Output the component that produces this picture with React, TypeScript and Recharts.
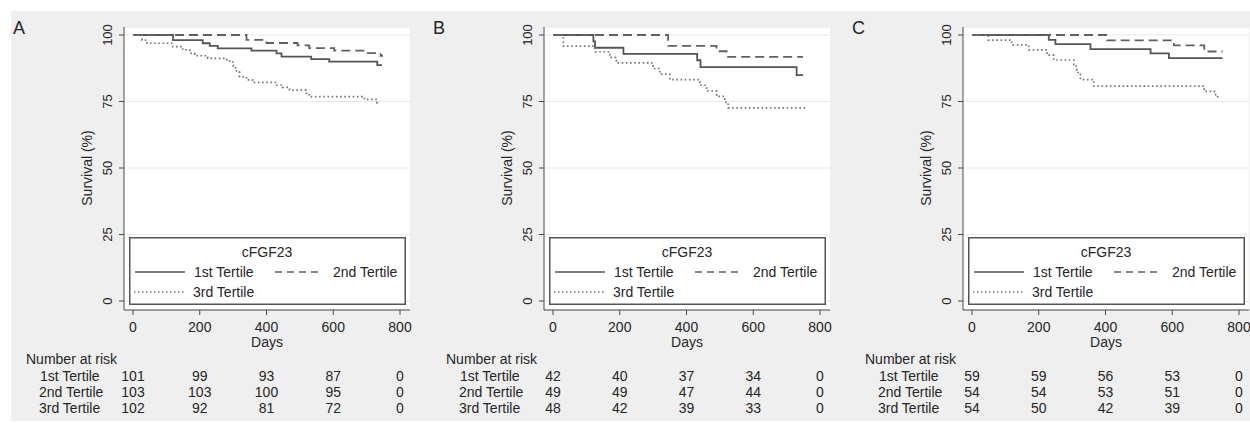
import React from 'react';
import { ComposedChart, Line, XAxis, YAxis, CartesianGrid } from 'recharts';

const dayTicks = [0, 200, 400, 600, 800];
const survivalTicks = [0, 25, 50, 75, 100];
const groupNames = ['1st Tertile', '2nd Tertile', '3rd Tertile'];

// [day, survival %] — Kaplan-Meier steps
const aFirst = [[0, 100], [120, 98.1], [209, 96.9], [230, 95.9], [254, 95.0], [355, 94.1], [430, 93.1], [445, 91.9], [534, 90.9], [588, 90.0], [732, 88.7], [746, 88.7]];
const aSecond = [[0, 100], [340, 98.2], [400, 97.0], [493, 96.1], [528, 95.1], [603, 94.1], [695, 93.2], [742, 92.2], [749, 92.2]];
const aThird = [[0, 100], [27, 98.1], [42, 96.9], [119, 95.6], [149, 94.4], [170, 93.1], [185, 92.2], [224, 91.2], [281, 90.2], [299, 88.5], [307, 86.5], [319, 84.3], [340, 83.1], [358, 82.2], [430, 81.2], [448, 80.3], [469, 79.3], [519, 78.1], [528, 76.8], [693, 75.8], [731, 74.5], [737, 74.5]];

const bFirst = [[0, 100], [121, 97.6], [126, 95.2], [211, 92.9], [432, 90.5], [442, 87.9], [730, 84.9], [749, 84.9]];
const bSecond = [[0, 100], [345, 95.9], [490, 93.9], [520, 91.8], [749, 91.8]];
const bThird = [[0, 100], [31, 95.8], [126, 93.7], [170, 91.6], [190, 89.5], [300, 87.4], [320, 85.3], [350, 83.2], [440, 81.1], [460, 79.0], [490, 76.9], [515, 74.7], [525, 72.6], [755, 72.6]];

const cFirst = [[0, 100], [230, 98.2], [250, 96.6], [355, 94.7], [535, 93.1], [590, 91.3], [751, 91.3]];
const cSecond = [[0, 100], [405, 98.0], [605, 96.1], [696, 93.8], [751, 93.8]];
const cThird = [[0, 100], [49, 98.1], [119, 96.3], [170, 94.4], [225, 92.4], [245, 90.6], [305, 88.9], [312, 87.0], [318, 85.2], [325, 83.2], [365, 80.8], [696, 78.8], [726, 77.6], [736, 76.3], [740, 76.3]];

// number at risk at 0, 200, 400, 600, 800 days
const aRisk = [[101, 99, 93, 87, 0], [103, 103, 100, 95, 0], [102, 92, 81, 72, 0]];
const bRisk = [[42, 40, 37, 34, 0], [49, 49, 47, 44, 0], [48, 42, 39, 33, 0]];
const cRisk = [[59, 59, 56, 53, 0], [54, 54, 53, 51, 0], [54, 50, 42, 39, 0]];

const pts = (rows: number[][]) => rows.map(([day, s]) => ({ day, s }));

const panels = [
  { letter: 'A', left: 0, curves: [aFirst, aSecond, aThird], risk: aRisk },
  { letter: 'B', left: 420, curves: [bFirst, bSecond, bThird], risk: bRisk },
  { letter: 'C', left: 839, curves: [cFirst, cSecond, cThird], risk: cRisk },
];

const FONT = '"Liberation Sans", Arial, sans-serif';
const TEXT = '#262626';
const AXIS = '#4a4a4a';
const lineStyles = [
  { stroke: '#555555', dash: undefined, width: 1.8 },
  { stroke: '#606060', dash: '9 5', width: 1.8 },
  { stroke: '#737373', dash: '1.6 2.6', width: 1.7 },
];

const SurvTick = (props: any) => {
  const { x, y, payload } = props;
  const cx = x - 10;
  return (
    <text x={cx} y={y} transform={`rotate(-90 ${cx} ${y})`} textAnchor="middle"
      dominantBaseline="central" fontSize={13} fill={TEXT} fontFamily={FONT}>
      {payload.value}
    </text>
  );
};

function LegendBox() {
  return (
    <svg width={277} height={68} style={{ position: 'absolute', left: 129, top: 237 }}>
      <rect x={0.75} y={0.75} width={275.5} height={66.5} fill="#fff" stroke="#555" strokeWidth={1.5} />
      <g fontFamily={FONT} fontSize={14} fill={TEXT} dominantBaseline="central">
        <text x={138} y={15} textAnchor="middle">cFGF23</text>
        <line x1={6} x2={56} y1={35} y2={35} stroke={lineStyles[0].stroke} strokeWidth={1.3} />
        <text x={65} y={35}>{groupNames[0]}</text>
        <line x1={146} x2={194} y1={35} y2={35} stroke={lineStyles[1].stroke} strokeWidth={1.3} strokeDasharray="7 5" />
        <text x={204} y={35}>{groupNames[1]}</text>
        <line x1={5} x2={55} y1={55} y2={55} stroke={lineStyles[2].stroke} strokeWidth={1.3} strokeDasharray="1.5 2.5" />
        <text x={64} y={55}>{groupNames[2]}</text>
      </g>
    </svg>
  );
}

function Panel({ letter, left, curves, risk }: any) {
  const txt = { position: 'absolute' as const, fontFamily: FONT, fontSize: 14, color: TEXT, lineHeight: '16px', whiteSpace: 'nowrap' as const };
  return (
    <div style={{ position: 'absolute', left, top: 0, width: 420, height: 423 }}>
      <ComposedChart width={420} height={423} margin={{ top: 27, right: 10, left: 84, bottom: 4 }}>
        <CartesianGrid vertical={false} stroke="#e8e8e8" fill="#ffffff" />
        <XAxis dataKey="day" type="number" domain={[0, 800]} ticks={dayTicks} interval={0}
          padding={{ left: 9, right: 10 }} height={61} tickSize={5} tickMargin={7}
          stroke={AXIS} tick={{ fontSize: 14, fill: TEXT, fontFamily: FONT }}
          label={{ value: 'Days', position: 'insideBottom', offset: 24, fontSize: 14, fill: TEXT, fontFamily: FONT }} />
        {risk.map((row: number[], k: number) => (
          <XAxis key={k} xAxisId={`r${k}`} dataKey="day" type="number" domain={[0, 800]} allowDataOverflow
            ticks={dayTicks} interval={0}
            padding={{ left: 9, right: 10 }} height={16} tickSize={0} tickMargin={0}
            axisLine={false} tickLine={false}
            tick={{ fontSize: 14, fill: TEXT, fontFamily: FONT }}
            tickFormatter={(v: number) => String(row[dayTicks.indexOf(v)])} />
        ))}
        <YAxis type="number" domain={[0, 100]} ticks={survivalTicks} interval={0}
          padding={{ top: 8, bottom: 9 }} width={40} tickSize={5} tickMargin={2}
          stroke={AXIS} tick={<SurvTick />} />
        {curves.map((c: number[][], i: number) => (
          <Line key={i} data={pts(c)} dataKey="s" type="stepAfter" dot={false}
            stroke={lineStyles[i].stroke} strokeWidth={lineStyles[i].width}
            strokeDasharray={lineStyles[i].dash} isAnimationActive={false} />
        ))}
      </ComposedChart>
      <LegendBox />
      <div style={{ ...txt, left: 13, top: 18, fontSize: 18, lineHeight: '20px' }}>{letter}</div>
      <div style={{ ...txt, left: 87, top: 168, transform: 'translate(-50%, -50%) rotate(-90deg)' }}>Survival (%)</div>
      <div style={{ ...txt, left: 26, top: 351 }}>Number at risk</div>
      {groupNames.map((g, k) => (
        <div key={g} style={{ ...txt, left: k === 0 ? 40 : 39, top: 368 + k * 16 }}>{g}</div>
      ))}
    </div>
  );
}

export default function App() {
  return (
    <div style={{ position: 'absolute', left: 0, top: 0, width: 1250, height: 423, background: '#fff', overflow: 'hidden' }}>
      <div style={{ position: 'absolute', left: 11, top: 11, width: 1239, height: 410, background: '#efefef' }} />
      {panels.map((p) => (
        <Panel key={p.letter} {...p} />
      ))}
    </div>
  );
}
